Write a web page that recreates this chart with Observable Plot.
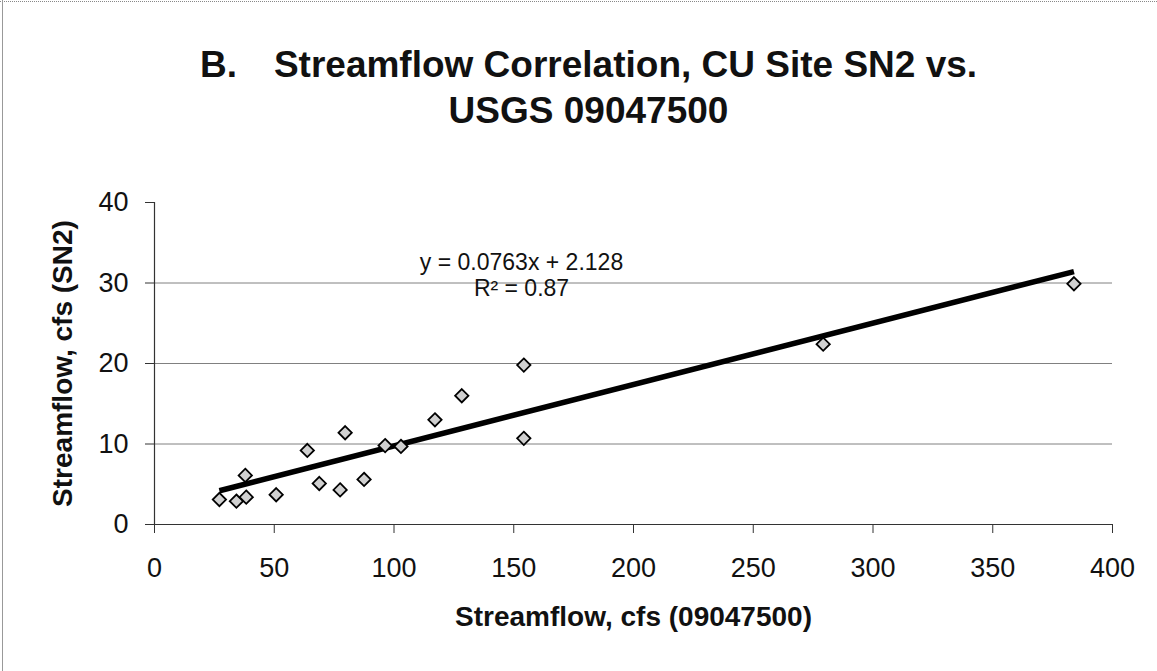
<!DOCTYPE html>
<html>
<head>
<meta charset="utf-8">
<script src="https://cdn.jsdelivr.net/npm/d3@7"></script>
<script src="https://cdn.jsdelivr.net/npm/@observablehq/plot@0.6"></script>
<style>
  html, body { margin: 0; padding: 0; background: #fff; }
  #wrap { position: relative; width: 1157px; height: 671px; overflow: hidden; background: #fff; }
  #frameTop { position: absolute; left: 0; top: 1px; width: 1157px; height: 0; border-top: 1px dotted #888; }
  #frameLeft { position: absolute; left: 2px; top: 0; width: 0; height: 671px; border-left: 1px solid #999; }
  #title { position: absolute; left: 10px; top: 42px; width: 1157px; text-align: center;
    font-family: "Liberation Sans", Arial, sans-serif; font-weight: bold; font-size: 37px;
    line-height: 46px; color: #111; white-space: pre; }
  #chart { position: absolute; left: 0; top: 0; }
</style>
</head>
<body>
<div id="wrap">
  <div id="frameTop"></div>
  <div id="frameLeft"></div>
  <div id="title"></div>
  <div id="chart"></div>
</div>
<script>
// ---- data ----
const titleLines = ["B.", "Streamflow Correlation, CU Site SN2 vs.", "USGS 09047500"];
const xLabel = "Streamflow, cfs (09047500)";
const yLabel = "Streamflow, cfs (SN2)";
const xTicks = [0, 50, 100, 150, 200, 250, 300, 350, 400];
const yTicks = [0, 10, 20, 30, 40];
const gridY = [10, 20, 30];
const flowUSGS = [27.1, 34.2, 38.3, 37.9, 50.8, 63.8, 68.8, 77.5, 79.6, 87.5, 96.3, 102.9, 117.1, 128.3, 154.2, 154.2, 279.2, 383.9];
const flowSN2  = [3.1, 2.9, 3.4, 6.1, 3.7, 9.2, 5.1, 4.3, 11.4, 5.6, 9.8, 9.7, 13.0, 16.0, 19.8, 10.7, 22.4, 29.9];
const trendSlope = 0.0763;
const trendIntercept = 2.128;
const eqText = "y = 0.0763x + 2.128";
const r2Text = "R² = 0.87";

// ---- title ----
const t = document.getElementById("title");
t.innerHTML = titleLines[0] + '<span style="display:inline-block;width:37px"></span>' + titleLines[1] + "\n" + titleLines[2];

// ---- build tables ----
const points = flowUSGS.map((x, i) => ({x, y: flowSN2[i]}));
const xExt = d3.extent(flowUSGS);
const trend = xExt.map(x => ({x, y: trendSlope * x + trendIntercept}));

const font = '"Liberation Sans", Arial, sans-serif';
const axisColor = "#333";

const chart = Plot.plot({
  width: 1157,
  height: 671,
  marginLeft: 154,
  marginRight: 45,
  marginTop: 202,
  marginBottom: 147,
  style: {fontFamily: font, fontSize: "27px", color: "#111", background: "transparent"},
  x: {domain: [0, 400], axis: null},
  y: {domain: [0, 40], axis: null},
  marks: [
    Plot.ruleY(gridY, {stroke: "#808080", strokeWidth: 1}),
    Plot.ruleY([0], {stroke: axisColor, strokeWidth: 1.2}),
    Plot.ruleX([0], {y1: 0, y2: 40, stroke: axisColor, strokeWidth: 1.2}),
    Plot.axisX({ticks: xTicks, tickSize: 9, tickPadding: 24, stroke: axisColor, fontSize: 27, label: null, tickFormat: d => String(d)}),
    Plot.axisY({ticks: yTicks, tickSize: 9, tickPadding: 17, stroke: axisColor, fontSize: 27, label: null, tickFormat: d => String(d)}),
    Plot.line(trend, {x: "x", y: "y", stroke: "#000", strokeWidth: 5.5, strokeLinecap: "butt"}),
    Plot.dot(points, {x: "x", y: "y", symbol: "diamond2", r: 6, fill: "#d0d0d0", stroke: "#000", strokeWidth: 1.8}),
    Plot.text([eqText], {frameAnchor: "top-left", dx: 367, dy: 67, lineAnchor: "bottom", textAnchor: "middle", fontSize: 23, fill: "#111"}),
    Plot.text([r2Text], {frameAnchor: "top-left", dx: 367, dy: 93, lineAnchor: "bottom", textAnchor: "middle", fontSize: 23, fill: "#111"}),
    Plot.text([xLabel], {frameAnchor: "bottom", dy: 101, lineAnchor: "bottom", textAnchor: "middle", fontSize: 28, fontWeight: "bold", fill: "#111"}),
    Plot.text([yLabel], {frameAnchor: "left", dx: -83, rotate: -90, lineAnchor: "bottom", textAnchor: "middle", fontSize: 28, fontWeight: "bold", fill: "#111"})
  ]
});
document.getElementById("chart").appendChild(chart);
</script>
</body>
</html>
